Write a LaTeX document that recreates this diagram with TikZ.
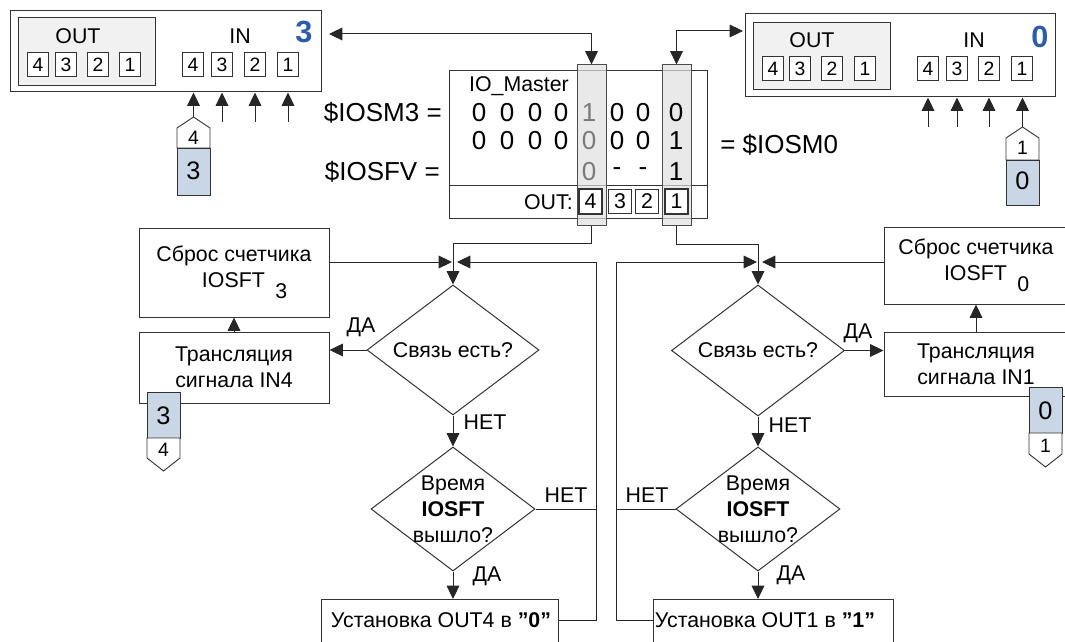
\documentclass[tikz,border=0pt]{standalone}
\usepackage{fontspec}
\setmainfont{Liberation Sans}
\usetikzlibrary{arrows.meta,shapes.geometric}
\definecolor{tagblue}{HTML}{C9D6E5}
\definecolor{numblue}{HTML}{2E5DA8}
\definecolor{boxgray}{HTML}{F1F1F1}
\definecolor{txtgray}{HTML}{7A7A7A}
\newcommand\fsA{\fontsize{16}{19.5}\selectfont}
\newcommand\fsB{\fontsize{14.5}{17}\selectfont}
\newcommand\fsC{\fontsize{19.5}{22.5}\selectfont}
\newcommand\fsD{\fontsize{23}{27}\selectfont\bfseries}
\newcommand\fsE{\fontsize{19}{22}\selectfont}
\newcommand\iosftsub[1]{\hspace*{1em}IOSFT\hspace{0.5em}\raisebox{-0.5em}{#1}}
\begin{document}
\begin{tikzpicture}[x=0.75pt,y=-0.75pt,
 every node/.style={inner sep=0pt,font=\fsA},
 fr/.style={draw=black!80,line width=0.75pt},
 sz/.style 2 args={minimum width=#1*0.75pt,minimum height=#2*0.75pt},
 sb/.style={fr,fill=white,minimum width=16pt,minimum height=18.5pt,font=\fsB},
 ob/.style={fr,fill=white,minimum width=17pt,minimum height=18.5pt,font=\fsA},
 obb/.style={ob,line width=1.8pt},
 col/.style={draw=black!70,line width=0.75pt,fill=black!12,fill opacity=0.7},
 dia/.style={fr,diamond,inner sep=0pt},
 arr/.style={draw=black!85,line width=0.75pt,-{Triangle[length=10pt,width=9.5pt]}},
 dbl/.style={draw=black!85,line width=0.75pt,{Triangle[length=10pt,width=9.5pt]}-{Triangle[length=10pt,width=9.5pt]}},
 ln/.style={draw=black!85,line width=0.75pt},
 tag/.style={fr,line width=0.7pt},
 big/.style={font=\fsC},
 ]
\useasboundingbox (0,0) rectangle (1065,642);
\clip (0,0) rectangle (1065,642);

% ---------- left device (3)
\node[fr,sz={311}{81}] (devL) at (165.5,51.5) {};
\node[fr,fill=boxgray,sz={137}{68}] (outbL) at (86.5,52) {};
\node (outL) at (78,36) {OUT};
\node (inL) at (240,36) {IN};
\node[font=\fsD,text=numblue] (numL) at (304,32) {3};
\foreach \t/\x in {4/38,3/66,2/98,1/130} \node[sb] (oL\t) at (\x,64.5) {\t};
\foreach \t/\x in {4/193,3/222,2/255,1/288} \node[sb] (iL\t) at (\x,64.5) {\t};

% ---------- right device (0)
\node[fr,sz={310}{83}] (devR) at (900,55.5) {};
\node[fr,fill=boxgray,sz={137}{67}] (outbR) at (821.5,56.5) {};
\node (outR) at (812,40) {OUT};
\node (inR) at (974,40) {IN};
\node[font=\fsD,text=numblue] (numR) at (1040,37) {0};
\foreach \t/\x in {4/773,3/800,2/832,1/865} \node[sb] (oR\t) at (\x,68.5) {\t};
\foreach \t/\x in {4/928,3/957,2/989,1/1022} \node[sb] (iR\t) at (\x,68.5) {\t};

% ---------- input arrows, left device
\foreach \x [count=\i] in {222,255,288} {
  \coordinate (uL\i) at (\x,122);
  \draw[arr] (uL\i) -- (uL\i |- devL.south);
}
\draw[tag,fill=white] (177,128) -- (193.5,117) -- (210,128) -- (210,148) -- (177,148) -- cycle;
\draw[tag,fill=tagblue] (177,148) rectangle (210,195);
\coordinate (tagLtip) at (193.5,117);
\draw[arr] (tagLtip) -- (tagLtip |- devL.south);
\node[font=\fsB] (tL4) at (193.5,137.5) {4};
\node[font=\fsE] (tL3) at (193.5,171) {3};

% ---------- input arrows, right device
\foreach \x [count=\i] in {928,957,989} {
  \coordinate (uR\i) at (\x,127);
  \draw[arr] (uR\i) -- (uR\i |- devR.south);
}
\draw[tag,fill=white] (1006,138) -- (1022.5,127) -- (1039,138) -- (1039,160) -- (1006,160) -- cycle;
\draw[tag,fill=tagblue] (1006,160) rectangle (1039,205);
\coordinate (tagRtip) at (1022.5,127);
\draw[arr] (tagRtip) -- (tagRtip |- devR.south);
\node[font=\fsB] (tR1) at (1022.5,148) {1};
\node[font=\fsE] (tR0) at (1022.5,181) {0};

% ---------- IO_Master
\node[fr,sz={258}{147}] (iom) at (578,144.5) {};
\coordinate (divL) at (449,185);
\draw[fr] (divL) -- (divL -| iom.east);
\node[col,sz={29}{160}] (c4) at (591.5,145) {};
\node[col,sz={29}{160}] (c1) at (676.5,145) {};
\node (iomt) at (519,86) {IO\_Master};
\foreach \v/\x [count=\i] in {0/479,0/507,0/535,0/561} {
  \node[big] (ra\i) at (\x,113) {\v};
  \node[big] (rb\i) at (\x,141) {\v};
}
\node[big,text=txtgray] (ra5) at (589,113) {1};
\node[big,text=txtgray] (rb5) at (589,141) {0};
\node[big,text=txtgray] (rc5) at (589,172) {0};
\node[big] (ra6) at (617,113) {0};
\node[big] (rb6) at (617,141) {0};
\node[big] (rc6) at (617,172) {-};
\node[big] (ra7) at (643,113) {0};
\node[big] (rb7) at (643,141) {0};
\node[big] (rc7) at (643,172) {-};
\node[big] (ra8) at (676,113) {0};
\node[big] (rb8) at (676,141) {1};
\node[big] (rc8) at (676,172) {1};
\node[anchor=east] (outlbl) at (573,202) {OUT:};
\node[obb] (mo4) at (590.5,201.5) {4};
\node[ob] (mo3) at (620,201.5) {3};
\node[ob] (mo2) at (647,201.5) {2};
\node[obb] (mo1) at (676.5,201.5) {1};
\node[big,anchor=east] (iosm3) at (442,113) {\$IOSM3 =};
\node[big,anchor=east] (iosfv) at (440,172) {\$IOSFV =};
\node[big,anchor=west] (iosm0) at (720,145) {= \$IOSM0};

% ---------- top connectors
\coordinate (tL) at (329,34);
\draw[dbl] (tL) -| (c4.north);
\coordinate (tR) at (743,31);
\draw[dbl] (c1.north) |- (tR);

% ---------- left flowchart
\node[fr,sz={190}{89},align=center] (sbrosL) at (234,272.5) {Сброс счетчика\\\iosftsub{3}};
\node[fr,sz={190}{71},align=center] (transL) at (234,367.5) {Трансляция\\сигнала IN4};
\node[dia,sz={172}{130},label={center:Связь есть?}] (dia1L) at (453,350) {};
\node[dia,sz={164}{124},label={[align=center]center:{Время\\\textbf{IOSFT}\\вышло?}}] (dia2L) at (453,509) {};
\node[fr,sz={237}{70},anchor=north] (setL) at (439.5,599) {};
\node (setLt) at (441,620) {Установка OUT4 в \textbf{”0”}};

\coordinate (jL) at (453,262);
\coordinate (rL) at (596,262);
\draw[arr] (c4.south) -- ++(0,18) -| (dia1L.north);
\draw[arr] (sbrosL.east |- jL) -- ([xshift=-0.75pt]jL);
\draw[arr] (setL.east |- setLt) -| (rL) -- ([xshift=3pt]jL);
\draw[ln] (dia2L.east) -- (dia2L.east -| rL);
\draw[arr] (dia1L.west) -- (transL.east |- dia1L.west);
\draw[arr] (transL.north) -- (sbrosL.south);
\draw[arr] (dia1L.south) -- (dia2L.north);
\draw[arr] (dia2L.south) -- (dia2L.south |- setL.north);

\node (yesL1) at (361,327) {ДА};
\node (noL1) at (485,422) {НЕТ};
\node (noL2) at (566,495) {НЕТ};
\node (yesL2) at (487,576) {ДА};

\draw[tag,fill=tagblue] (147,392) rectangle (180,438);
\draw[tag,fill=white] (147,438) -- (180,438) -- (180,458) -- (163.5,471) -- (147,458) -- cycle;
\node[font=\fsE] (bL3) at (163.5,416) {3};
\node[font=\fsB] (bL4) at (163.5,450) {4};

% ---------- right flowchart
\node[fr,sz={184}{77},align=center] (sbrosR) at (976,265.5) {Сброс счетчика\\\iosftsub{0}};
\node[fr,sz={184}{64},align=center] (transR) at (976,364) {Трансляция\\сигнала IN1};
\node[dia,sz={173}{131},label={center:Связь есть?}] (dia1R) at (758,350.5) {};
\node[dia,sz={164}{124},label={[align=center]center:{Время\\\textbf{IOSFT}\\вышло?}}] (dia2R) at (758,509) {};
\node[fr,sz={240}{70},anchor=north] (setR) at (773,599) {};
\node (setRt) at (765,620) {Установка OUT1 в \textbf{”1”}};

\coordinate (jR) at (758,262);
\coordinate (rR) at (616,262);
\draw[arr] (c1.south) -- ++(0,19) -| (dia1R.north);
\draw[arr] (sbrosR.west |- jR) -- ([xshift=3pt]jR);
\draw[arr] (setR.west |- setRt) -| (rR) -- ([xshift=-0.75pt]jR);
\draw[ln] (dia2R.west) -- (dia2R.west -| rR);
\draw[arr] (dia1R.east) -- (transR.west |- dia1R.east);
\draw[arr] (transR.north) -- (sbrosR.south);
\draw[arr] (dia1R.south) -- (dia2R.north);
\draw[arr] (dia2R.south) -- (dia2R.south |- setR.north);

\node (yesR1) at (858,333) {ДА};
\node (noR1) at (790,425) {НЕТ};
\node (noR2) at (647,495) {НЕТ};
\node (yesR2) at (791,575) {ДА};

\draw[tag,fill=tagblue] (1029,387) rectangle (1062,433);
\draw[tag,fill=white] (1029,433) -- (1062,433) -- (1062,454) -- (1045.5,467) -- (1029,454) -- cycle;
\node[font=\fsE] (bR0) at (1045.5,411) {0};
\node[font=\fsB] (bR1) at (1045.5,446) {1};
\end{tikzpicture}
\end{document}
